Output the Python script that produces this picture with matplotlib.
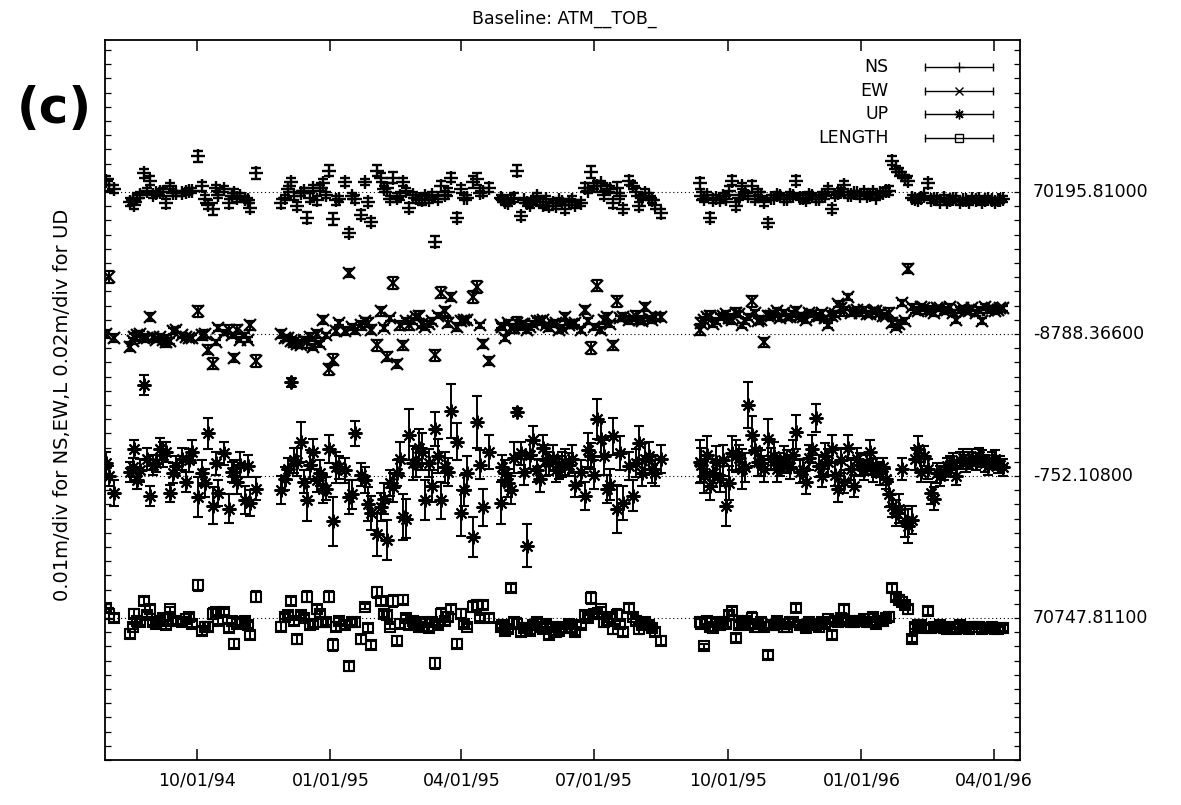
import numpy as np
import matplotlib.pyplot as plt
import matplotlib.dates as mdates

# session days, counted from 31 Jul 1994
days = [0, 2, 5,
        16, 19, 23, 26, 30, 34, 37, 41, 44, 48,
        52, 55, 59, 63, 66, 70, 73, 77, 81, 84,
        88, 92, 95, 99, 103,
        120, 123, 127, 131, 134, 138, 142, 145, 149, 153,
        156, 160, 164, 167, 171, 175, 178, 182, 186, 189,
        193, 197, 200, 204, 208, 211, 215, 219, 222, 226,
        230, 233, 237, 241, 244, 248, 252, 255, 259, 263,
        271, 274, 278, 282, 285, 289, 293, 296, 300, 304,
        307, 311, 315, 318, 322, 326, 329, 333, 337, 340,
        344, 348, 351, 355, 359, 362, 366, 370, 373, 377,
        381,
        408, 411, 415, 419, 422, 426, 430, 433, 437, 441,
        444, 448, 452, 455, 459, 463, 466, 470, 474, 477,
        481, 485, 488, 492, 496, 499, 503, 507, 510, 514,
        518, 521, 525, 529, 532, 536, 540, 543, 547, 551,
        554, 558, 562, 565, 569, 573, 576, 580, 584, 587,
        591, 595, 598, 602, 606, 609, 613, 616,
        # more sessions
        18, 21, 28, 32, 39, 46, 57, 68, 75, 86,
        90, 97,
        125, 129, 136, 140, 147, 151, 158, 169, 180, 191,
        195, 202, 206, 213, 217, 224, 228, 235, 246, 257,
        272, 276, 280, 287, 291, 298, 302, 309, 313, 320,
        331, 335, 342, 346, 353, 364, 368, 375,
        409, 413, 417, 424, 428, 435, 439, 446, 450, 457,
        461, 468, 472, 479, 483, 490, 494, 501, 505, 512,
        516, 523, 527, 534, 538, 545, 549, 556, 560, 567,
        571, 578, 582, 589, 593, 600, 604, 611, 614]

# residuals in cm
ns_cm = [0.8, 0.5, 0.2,
         -0.7, -0.9, -0.2, 1.3, 0.8, -0.1, 0.0, -0.8, 0.4, -0.1,
         -0.1, 0.0, 0.1, 2.5, 0.4, -0.9, -1.2, -0.2, 0.2, -0.8,
         -0.1, -0.3, -0.5, -1.1, 1.3,
         -0.8, -0.4, 0.7, -1.0, -0.1, -1.8, 0.3, -0.6, 0.6, 1.5,
         -1.9, -0.5, 0.7, -2.9, -0.5, -1.6, 0.7, -2.1, 1.5, 1.0,
         0.3, 1.0, -0.4, 0.7, -1.1, -0.2, -0.5, -0.3, -0.6, -3.5,
         0.4, -0.2, 1.0, -1.8, 0.2, -0.4, 0.7, 0.9, 0.0, 0.3,
         -0.4, -0.7, -0.5, 1.5, -1.7, -0.8, -0.6, -0.3, -0.9, -1.0,
         -0.8, -0.6, -1.2, -0.7, -0.9, -0.8, 0.3, 1.4, 0.4, 0.6,
         0.2, -0.8, 0.3, -1.2, 0.8, 0.4, -1.0, -0.1, -0.3, -0.9,
         -1.5,
         0.6, -0.5, -1.8, -0.4, -0.6, -0.5, 0.8, -1.0, 0.4, -0.3,
         0.4, 0.0, -0.7, -2.2, -0.4, -0.3, -0.5, -0.2, 0.8, -0.4,
         -0.6, -0.3, -0.5, -0.2, 0.2, -1.2, -0.1, 0.5, -0.2, -0.1,
         -0.3, 0.0, -0.2, -0.4, -0.1, 0.1, 2.2, 1.6, 1.2, 0.8,
         -0.4, -0.6, -0.3, 0.6, -0.5, -0.7, -0.4, -0.6, -0.5, -0.7,
         -0.6, -0.5, -0.6, -0.7, -0.5, -0.6, -0.6, -0.5,
         -0.6, -0.4, 0.1, -0.2, 0.0, -0.1, 0.1, -0.5, 0.3, -0.3,
         -0.4, -0.6,
         0.2, -0.3, 0.1, -0.4, 0.3, -0.2, -0.6, -0.3, -0.7, 0.2,
         -0.5, -0.3, 0.1, -0.4, -0.6, -0.2, -0.5, 0.0, -0.4, -0.1,
         -0.5, -0.8, -0.4, -0.6, -0.9, -0.7, -0.5, -1.0, -0.7, -0.6,
         0.1, 0.4, -0.2, 0.2, -0.3, 0.0, -0.4, -0.6,
         -0.3, -0.2, -0.6, -0.3, 0.1, -0.4, -0.1, -0.5, -0.3, -0.4,
         -0.2, -0.5, -0.3, -0.4, -0.2, -0.5, -0.3, -0.2, 0.0, -0.2,
         -0.1, -0.3, 0.0, -0.1, 0.1, 1.4, 1.0, -0.5, -0.4, -0.6,
         -0.5, -0.7, -0.5, -0.6, -0.7, -0.5, -0.6, -0.7, -0.6]

ew_cm = [0.0, 4.0, -0.3,
         -0.9, -0.2, 0.0, -0.3, 1.2, -0.4, -0.2, -0.6, -0.5, 0.3,
         -0.1, -0.2, -0.3, 1.6, -0.1, -1.1, -2.1, 0.4, 0.1, 0.3,
         -1.7, -0.4, -0.1, 0.6, -1.9,
         0.0, -0.3, -0.5, -0.7, -0.8, -0.6, -0.9, 0.0, 1.0, -2.5,
         -1.8, 0.8, 0.2, 4.3, 0.3, 0.6, 0.9, 0.3, -0.8, 1.6,
         -1.6, 3.6, -2.1, -0.8, 0.6, 0.9, 1.3, 0.5, 0.7, -1.5,
         2.9, 1.6, 2.6, 0.5, 0.9, 1.0, 2.6, 3.3, -0.7, -1.9,
         0.6, -0.3, 0.4, 0.8, 0.6, 0.3, 0.7, 0.9, 1.0, 0.5,
         0.7, 0.3, 1.2, 0.6, 0.8, 0.3, 1.7, -1.0, 3.4, 0.3,
         1.2, -0.8, 2.3, 1.2, 1.0, 1.1, 1.0, 1.9, 1.1, 1.2,
         1.2,
         0.3, 1.0, 1.3, 0.9, 1.2, 1.4, 1.0, 1.5, 0.6, 1.2,
         2.3, 0.9, -0.6, 1.3, 1.4, 1.1, 1.5, 1.2, 1.6, 1.3,
         1.0, 1.4, 1.2, 1.5, 0.6, 1.3, 2.1, 1.6, 2.6, 1.6,
         1.5, 1.7, 1.4, 1.6, 1.5, 1.3, 0.8, 0.5, 2.2, 4.6,
         1.9, 1.6, 1.8, 1.7, 1.5, 1.8, 1.6, 1.9, 1.0, 1.7,
         1.6, 1.8, 1.5, 0.9, 1.7, 1.8, 1.7, 1.8,
         -0.5, -0.1, -0.3, -0.2, -0.4, 0.2, -0.3, 0.0, -0.6, -0.1,
         0.3, -0.4,
         -0.3, -0.6, -0.4, -0.2, -0.7, -0.1, 0.2, 0.5, 0.8, 0.4,
         1.1, 0.6, 0.9, 1.2, 0.7, 0.9, 1.3, 0.8, 1.0, 0.6,
         0.5, 0.8, 0.4, 0.7, 0.5, 0.9, 0.6, 0.8, 0.4, 0.7,
         0.9, 0.5, 1.0, 0.7, 1.1, 1.3, 0.9, 1.0,
         0.8, 1.2, 0.7, 1.3, 1.1, 1.4, 0.9, 1.5, 1.0, 1.3,
         1.6, 1.2, 1.4, 1.2, 1.5, 1.3, 1.1, 1.4, 1.8, 1.5,
         1.7, 1.4, 1.6, 1.3, 1.5, 0.7, 0.9, 1.7, 1.9, 1.6,
         1.8, 1.7, 1.5, 1.8, 1.6, 1.7, 1.9, 1.6, 1.8]

up_cm = [1.8, 0.0, -2.4,
         0.6, 3.8, 0.8, 12.8, -2.8, 1.8, 3.8, 3.4, -2.4, 1.4,
         2.4, -0.8, 3.4, -3.0, 0.4, 6.0, -4.2, -2.4, 3.2, -4.6,
         0.6, 1.6, -3.4, -3.8, -1.8,
         -2.0, -0.4, 13.2, 2.0, 4.8, -3.4, 3.4, -0.6, -1.8, 3.8,
         -6.4, 1.2, 0.8, -3.0, 6.0, 0.2, -0.6, -5.2, -8.2, -4.4,
         -9.0, -1.6, 0.4, -5.8, 5.8, 1.8, 4.0, -3.4, 1.8, 6.6,
         -3.4, 1.2, 9.2, 4.8, -5.2, 0.4, -8.6, 7.6, -4.4, 3.4,
         -3.8, 0.4, -2.0, 9.0, 3.2, -9.8, 5.0, 0.8, 4.0, 1.8,
         2.6, 1.2, 2.0, 1.6, -1.2, 0.6, -2.8, 2.8, 8.0, 5.2,
         -1.8, 5.6, -4.6, -3.8, 1.4, -2.8, 4.6, 2.4, 2.8, 0.4,
         2.4,
         2.0, 0.0, -1.4, 2.0, -0.4, -4.2, 3.2, 2.8, 1.0, 10.0,
         5.8, 2.0, 1.0, 5.2, 2.8, 1.6, 2.4, 1.2, 6.2, 0.6,
         -0.8, 3.8, 8.2, 0.0, 2.0, 3.8, -1.8, -0.8, 4.0, -1.4,
         1.6, 0.8, 3.4, 1.2, 0.4, -0.4, -4.2, -5.2, 1.0, -7.0,
         -6.2, 3.8, 2.8, 1.0, -3.2, 0.0, 0.6, 1.6, 0.0, 2.2,
         1.8, 2.6, 2.0, 2.4, 1.4, 2.2, 1.6, 1.2,
         1.2, -0.6, 2.4, 1.6, 3.0, 0.4, 2.2, -1.0, 1.8, 0.6,
         -0.8, 1.4,
         1.0, 2.2, -0.8, 1.6, 0.4, -1.8, 1.2, -2.6, -4.0, -3.2,
         -1.0, 2.4, -6.0, 1.8, 3.4, -1.4, 2.8, 0.6, -2.0, 1.6,
         1.2, -1.0, 2.6, 0.6, 3.0, -0.4, 2.2, 0.8, 1.6, 2.4,
         3.6, 0.2, 2.8, -1.2, 3.2, 1.8, 0.4, 1.0,
         1.6, 3.0, 0.4, 2.2, -1.0, 2.6, 1.2, 3.6, 1.8, 2.4,
         1.0, 2.0, 3.0, 0.8, 2.6, 1.4, 2.8, 0.2, 2.2, 1.0,
         2.4, 1.6, 0.8, 1.2, -2.6, -4.6, -6.4, 2.4, 0.6, -2.4,
         0.4, 1.4, 2.0, 2.6, 2.2, 2.8, 1.8, 2.4, 1.6]

len_cm = [0.7, 0.3, 0.0,
          -1.1, 0.3, -0.3, 1.2, 0.6, -0.4, -0.2, -0.5, 0.6, -0.2,
          -0.3, -0.1, -0.4, 2.3, -0.9, -0.6, 0.3, -0.2, 0.4, -0.7,
          -1.8, -0.3, -0.2, -1.2, 1.5,
          -0.6, 0.1, 1.2, -1.5, 0.2, 1.5, -0.4, 0.6, -0.3, 1.5,
          -1.9, -0.2, -0.5, -3.4, -0.3, -1.5, 0.8, -1.9, 1.8, 1.2,
          0.2, 1.2, -1.6, 1.3, -0.5, -0.2, -0.6, -0.3, -0.7, -3.2,
          0.3, -0.2, 0.6, -1.8, 0.3, -0.6, 0.8, 0.9, 0.9, 0.0,
          -0.6, -0.9, 2.1, -0.4, -1.0, -0.7, -0.5, -0.3, -0.8, -1.2,
          -0.6, -0.9, -0.7, -0.4, -1.0, -0.5, 0.2, 1.4, 0.3, 0.6,
          -0.2, -0.8, 0.2, -1.0, 0.7, 0.1, -0.8, -0.3, -0.5, -1.0,
          -1.6,
          -0.3, -2.0, -0.6, -0.3, -0.5, -0.4, 0.5, -1.4, -0.2, -0.5,
          0.0, -0.4, -0.6, -2.6, -0.5, -0.4, -0.6, -0.3, 0.7, -0.5,
          -0.7, -0.4, -0.5, -0.3, -0.1, -1.2, -0.3, 0.6, -0.2, -0.3,
          -0.2, -0.1, -0.3, -0.4, -0.2, 0.0, 2.1, 1.5, 1.1, 0.6,
          -1.5, -0.5, -0.7, 0.5, -0.6, -0.5, -0.7, -0.6, -0.8, -0.5,
          -0.7, -0.6, -0.6, -0.8, -0.7, -0.6, -0.8, -0.7,
          -0.6, -0.2, 0.2, -0.3, 0.0, -0.2, 0.1, -0.6, 0.4, -0.2,
          -0.4, -0.5,
          0.2, -0.2, 0.0, -0.5, 0.3, -0.3, -0.6, -0.3, -0.7, 0.3,
          -0.6, -0.4, 0.0, -0.5, -0.6, -0.3, -0.5, 0.1, -0.4, 0.0,
          -0.5, -0.8, -0.3, -0.7, -0.9, -0.6, -0.4, -1.0, -0.6, -0.7,
          0.0, 0.3, -0.3, 0.1, -0.4, -0.2, -0.5, -0.7,
          -0.4, -0.2, -0.7, -0.3, 0.2, -0.5, -0.2, -0.6, -0.3, -0.5,
          -0.2, -0.6, -0.3, -0.5, -0.3, -0.6, -0.4, -0.2, 0.0, -0.3,
          -0.2, -0.3, 0.1, -0.2, 0.1, 1.3, 0.9, -0.6, -0.5, -0.7,
          -0.6, -0.8, -0.6, -0.7, -0.8, -0.6, -0.7, -0.8, -0.7]

# formal errors in cm (horizontal components share one list)
sig_h_cm = [0.3, 0.4, 0.3,
            0.3, 0.3, 0.2, 0.3, 0.3, 0.2, 0.2, 0.3, 0.2, 0.2,
            0.2, 0.2, 0.2, 0.4, 0.3, 0.3, 0.4, 0.2, 0.2, 0.3,
            0.3, 0.2, 0.2, 0.3, 0.4,
            0.3, 0.2, 0.3, 0.3, 0.2, 0.4, 0.2, 0.3, 0.3, 0.4,
            0.4, 0.2, 0.3, 0.3, 0.3, 0.3, 0.2, 0.3, 0.4, 0.3,
            0.3, 0.4, 0.3, 0.3, 0.3, 0.2, 0.3, 0.2, 0.2, 0.4,
            0.4, 0.3, 0.3, 0.3, 0.3, 0.2, 0.4, 0.4, 0.3, 0.3,
            0.2, 0.2, 0.3, 0.4, 0.3, 0.2, 0.2, 0.2, 0.2, 0.3,
            0.2, 0.2, 0.3, 0.2, 0.2, 0.2, 0.3, 0.4, 0.4, 0.2,
            0.3, 0.3, 0.4, 0.3, 0.3, 0.2, 0.3, 0.3, 0.2, 0.3,
            0.3,
            0.4, 0.2, 0.3, 0.2, 0.2, 0.2, 0.3, 0.3, 0.2, 0.2,
            0.4, 0.2, 0.3, 0.3, 0.2, 0.2, 0.2, 0.2, 0.3, 0.2,
            0.2, 0.2, 0.2, 0.2, 0.2, 0.3, 0.2, 0.3, 0.2, 0.2,
            0.2, 0.2, 0.2, 0.2, 0.2, 0.2, 0.3, 0.2, 0.2, 0.3,
            0.2, 0.2, 0.2, 0.3, 0.2, 0.2, 0.2, 0.2, 0.2, 0.2,
            0.2, 0.2, 0.2, 0.2, 0.2, 0.2, 0.2, 0.2,
            0.2, 0.3, 0.2, 0.2, 0.3, 0.2, 0.2, 0.3, 0.2, 0.2,
            0.3, 0.2,
            0.2, 0.3, 0.2, 0.3, 0.2, 0.2, 0.3, 0.2, 0.3, 0.2,
            0.2, 0.3, 0.2, 0.2, 0.3, 0.2, 0.2, 0.3, 0.2, 0.2,
            0.2, 0.2, 0.3, 0.2, 0.2, 0.3, 0.2, 0.2, 0.2, 0.3,
            0.2, 0.2, 0.3, 0.2, 0.2, 0.3, 0.2, 0.2,
            0.3, 0.2, 0.2, 0.2, 0.3, 0.2, 0.2, 0.2, 0.3, 0.2,
            0.2, 0.2, 0.2, 0.3, 0.2, 0.2, 0.2, 0.2, 0.3, 0.2,
            0.2, 0.2, 0.2, 0.2, 0.3, 0.3, 0.2, 0.2, 0.2, 0.2,
            0.2, 0.2, 0.2, 0.2, 0.2, 0.2, 0.2, 0.2, 0.2]

sig_up_cm = [1.6, 1.4, 1.8,
             1.4, 1.2, 1.6, 1.4, 1.4, 1.2, 1.6, 1.4, 1.2, 1.4,
             1.6, 1.4, 1.6, 2.8, 1.8, 2.2, 2.6, 1.8, 1.6, 2.0,
             1.6, 1.8, 2.0, 1.8, 1.6,
             2.0, 1.6, 0.6, 2.0, 2.8, 3.0, 1.8, 1.6, 2.0, 2.0,
             3.4, 1.6, 1.8, 2.4, 1.8, 1.6, 1.8, 2.4, 3.0, 2.0,
             2.8, 2.0, 1.8, 3.2, 3.6, 2.4, 2.6, 2.8, 2.0, 2.4,
             2.6, 2.2, 3.8, 2.6, 3.2, 2.4, 2.8, 3.6, 2.6, 2.4,
             3.0, 1.8, 2.0, 0.6, 1.6, 3.0, 2.0, 1.6, 1.8, 1.6,
             1.8, 1.6, 1.8, 1.6, 1.8, 1.6, 2.0, 1.8, 2.8, 2.4,
             2.0, 2.6, 3.4, 2.4, 2.0, 2.2, 2.4, 2.2, 2.0, 1.8,
             2.0,
             3.0, 2.4, 2.0, 2.2, 1.8, 2.8, 2.4, 2.2, 2.8, 3.2,
             2.6, 2.0, 1.8, 2.8, 2.0, 1.6, 1.8, 1.6, 2.4, 1.6,
             1.8, 2.0, 2.0, 1.6, 1.8, 2.0, 1.8, 1.6, 1.8, 1.6,
             1.6, 1.4, 1.6, 1.4, 1.6, 1.4, 1.6, 1.8, 1.6, 2.4,
             2.0, 1.8, 1.4, 1.4, 1.6, 1.4, 1.2, 1.2, 1.2, 1.2,
             1.2, 1.2, 1.2, 1.2, 1.2, 1.2, 1.2, 1.2,
             1.4, 1.2, 1.6, 1.4, 1.8, 1.4, 1.6, 2.0, 1.6, 1.4,
             1.8, 1.6,
             1.6, 1.8, 1.6, 2.0, 1.8, 1.6, 2.2, 2.0, 2.4, 2.2,
             1.8, 2.4, 2.8, 2.0, 2.6, 2.2, 2.4, 2.0, 2.2, 2.0,
             1.8, 2.0, 2.2, 1.8, 2.0, 1.8, 2.2, 1.6, 1.8, 2.0,
             2.4, 2.0, 2.6, 2.2, 2.4, 2.0, 1.8, 2.0,
             2.4, 2.6, 2.0, 2.2, 2.4, 1.8, 2.0, 2.2, 1.8, 1.6,
             1.8, 1.6, 2.0, 1.6, 1.8, 1.6, 1.8, 1.6, 1.8, 1.6,
             1.6, 1.4, 1.6, 1.4, 1.8, 2.0, 2.2, 1.6, 1.4, 1.6,
             1.4, 1.2, 1.2, 1.2, 1.2, 1.2, 1.2, 1.2, 1.2]

names = ['NS', 'EW', 'UP', 'LENGTH']
ref_values = [70195.81000, -8788.36600, -752.10800, 70747.81100]

t = np.datetime64('1994-07-31') + np.array(days).astype('timedelta64[D]')

# (values, errors, cm per division, row, marker style)
series = [
    (ns_cm, sig_h_cm, 1.0, 40, dict(marker='+', ms=10, mew=1.7)),
    (ew_cm, sig_h_cm, 1.0, 30, dict(marker='x', ms=8.5, mew=1.6)),
    (up_cm, sig_up_cm, 2.0, 20, dict(marker=(8, 2, 0), ms=10, mew=1.5)),
    (len_cm, sig_h_cm, 1.0, 10, dict(marker='s', ms=7.5, mew=1.5, mfc='none')),
]

fig = plt.figure(figsize=(11.81, 8.05), dpi=100)
ax = fig.add_axes([0.0889, 0.0559, 0.7748, 0.8944])

for vals, err, scale, row, mk in series:
    ax.axhline(row, ls=(0, (1, 2.5)), lw=0.8, color='k')
    ax.errorbar(t, row + np.array(vals) / scale, yerr=np.array(err) / scale,
                ls='none', color='k', elinewidth=1.4, capsize=3.5, capthick=1.4,
                **mk)

# mean values on the right
for (vals, err, scale, row, mk), v in zip(series, ref_values):
    ax.text(1.014, row, f'{v:.5f}', transform=ax.get_yaxis_transform(),
            ha='left', va='center', fontsize=12.5)

# gnuplot-like key
for i, (name, (vals, err, scale, row, mk)) in enumerate(zip(names, series)):
    yy = 0.9625 - i * 0.0328
    ax.text(0.856, yy, name, transform=ax.transAxes, ha='right', va='center',
            fontsize=12.5)
    ax.plot([0.896, 0.970], [yy, yy], transform=ax.transAxes, color='k', lw=1.0)
    ax.plot([0.896, 0.970], [yy, yy], transform=ax.transAxes, ls='none',
            marker='|', ms=6, mew=1.0, color='k')
    key_mk = dict(mk, ms=mk['ms'] * 0.7, mew=1.0)
    ax.plot([0.933], [yy], transform=ax.transAxes, ls='none', color='k',
            **key_mk)

ax.set_xlim(np.datetime64('1994-07-30'), np.datetime64('1996-04-19'))
ax.set_ylim(0, 50.7)
ax.xaxis.set_major_locator(mdates.MonthLocator(bymonth=[1, 4, 7, 10]))
ax.xaxis.set_major_formatter(mdates.DateFormatter('%m/%d/%y'))
ax.set_yticks(np.arange(0, 51, 1))
ax.set_yticklabels([])
ax.tick_params(axis='x', direction='in', length=8, width=1.1, top=True,
               pad=8, labelsize=12.5)
ax.tick_params(axis='y', direction='in', length=4, width=0.9, left=True,
               right=True)
for sp in ax.spines.values():
    sp.set_linewidth(1.3)

fig.text(0.478, 0.977, 'Baseline: ATM__TOB_', ha='center', va='center',
         fontsize=12.5)
fig.text(0.0525, 0.497, '0.01m/div for NS,EW,L 0.02m/div for UD',
         rotation=90, ha='center', va='center', fontsize=14)
fig.text(0.046, 0.864, '(c)', ha='center', va='center', fontsize=36,
         fontweight='bold')

fig.savefig('out.png', dpi=100)
